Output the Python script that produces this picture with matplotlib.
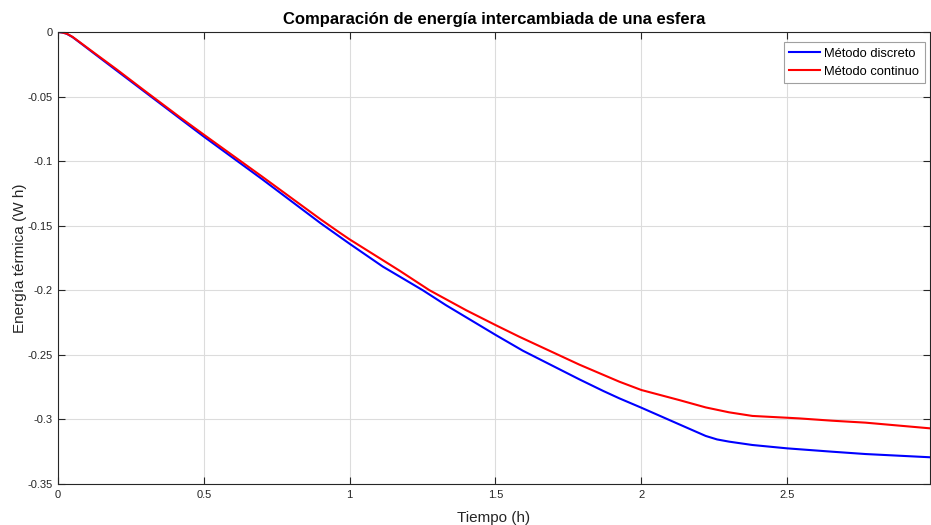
import numpy as np
import matplotlib
matplotlib.use('Agg')
import matplotlib.pyplot as plt
from matplotlib.ticker import FuncFormatter

plt.rcParams['font.family'] = ['Liberation Sans', 'DejaVu Sans']
plt.rcParams['axes.unicode_minus'] = False

# Valores
t_discreto = [0, 0.015, 0.03, 0.05, 0.08, 0.12, 0.2, 0.3, 0.418, 0.5, 0.7, 0.9, 1.0,
              1.114, 1.171, 1.251, 1.33, 1.5, 1.594, 1.788, 1.87, 1.925, 2.0, 2.13,
              2.221, 2.26, 2.301, 2.381, 2.5, 2.655, 2.769, 2.99]
e_discreto = [0, -0.0004, -0.0014, -0.0040, -0.0091, -0.0160, -0.0297, -0.0468,
              -0.0670, -0.081, -0.114, -0.148, -0.164, -0.1817, -0.1893, -0.200,
              -0.2115, -0.2345, -0.2468, -0.269, -0.278, -0.2837, -0.2909, -0.3038,
              -0.3128, -0.3155, -0.3172, -0.3198, -0.3224, -0.325, -0.3268, -0.3293]

t_continuo = [0, 0.015, 0.03, 0.05, 0.08, 0.12, 0.2, 0.3, 0.418, 0.5, 0.7, 0.9, 0.966,
              1.0, 1.171, 1.274, 1.4, 1.5, 1.582, 1.788, 1.925, 2.0, 2.13, 2.221, 2.301,
              2.381, 2.5, 2.541, 2.655, 2.769, 2.99]
e_continuo = [0, -0.0004, -0.0013, -0.0038, -0.0088, -0.0155, -0.0288, -0.0460,
              -0.0660, -0.0795, -0.112, -0.145, -0.1554, -0.1606, -0.1848, -0.200,
              -0.2155, -0.2269, -0.2360, -0.2576, -0.2708, -0.2772, -0.2850, -0.2907,
              -0.2945, -0.2973, -0.2987, -0.2992, -0.301, -0.3025, -0.3069]

x_ticks = [0, 0.5, 1, 1.5, 2, 2.5]
y_ticks = [0, -0.05, -0.1, -0.15, -0.2, -0.25, -0.3, -0.35]

fig = plt.figure(figsize=(9.31, 5.25), dpi=100)
ax = fig.add_axes([0.0623, 0.0781, 0.9366, 0.861])

ax.plot(t_discreto, e_discreto, color='#0000ff', lw=1.5, label='Método discreto')
ax.plot(t_continuo, e_continuo, color='#ff0000', lw=1.5, label='Método continuo')

ax.set_xlim(0, 2.99)
ax.set_ylim(-0.35, 0)
ax.set_xticks(x_ticks)
ax.set_yticks(y_ticks)
fmt = FuncFormatter(lambda v, p: '%g' % v)
ax.xaxis.set_major_formatter(fmt)
ax.yaxis.set_major_formatter(fmt)

ax.grid(True, color='#dcdcdc', lw=0.8)
ax.set_axisbelow(True)
ax.tick_params(direction='in', length=5, width=0.8, top=True, right=True,
               labelsize=8, colors='#262626', pad=4)
for s in ax.spines.values():
    s.set_color('#262626')
    s.set_linewidth(0.8)

ax.set_title('Comparación de energía intercambiada de una esfera',
             fontsize=12, fontweight='bold', pad=6)
ax.set_xlabel('Tiempo (h)', fontsize=11, color='#262626', labelpad=8)
ax.set_ylabel('Energía térmica (W h)', fontsize=11, color='#262626', labelpad=0)

leg = ax.legend(loc='upper right', bbox_to_anchor=(0.9943, 0.978), borderaxespad=0,
                fontsize=9.3, fancybox=False, framealpha=1, edgecolor='#a0a0a0',
                handlelength=2.4, handletextpad=0.3, borderpad=0.45,
                labelspacing=0.45)
leg.get_frame().set_linewidth(0.8)

fig.savefig('out.png', dpi=100)
